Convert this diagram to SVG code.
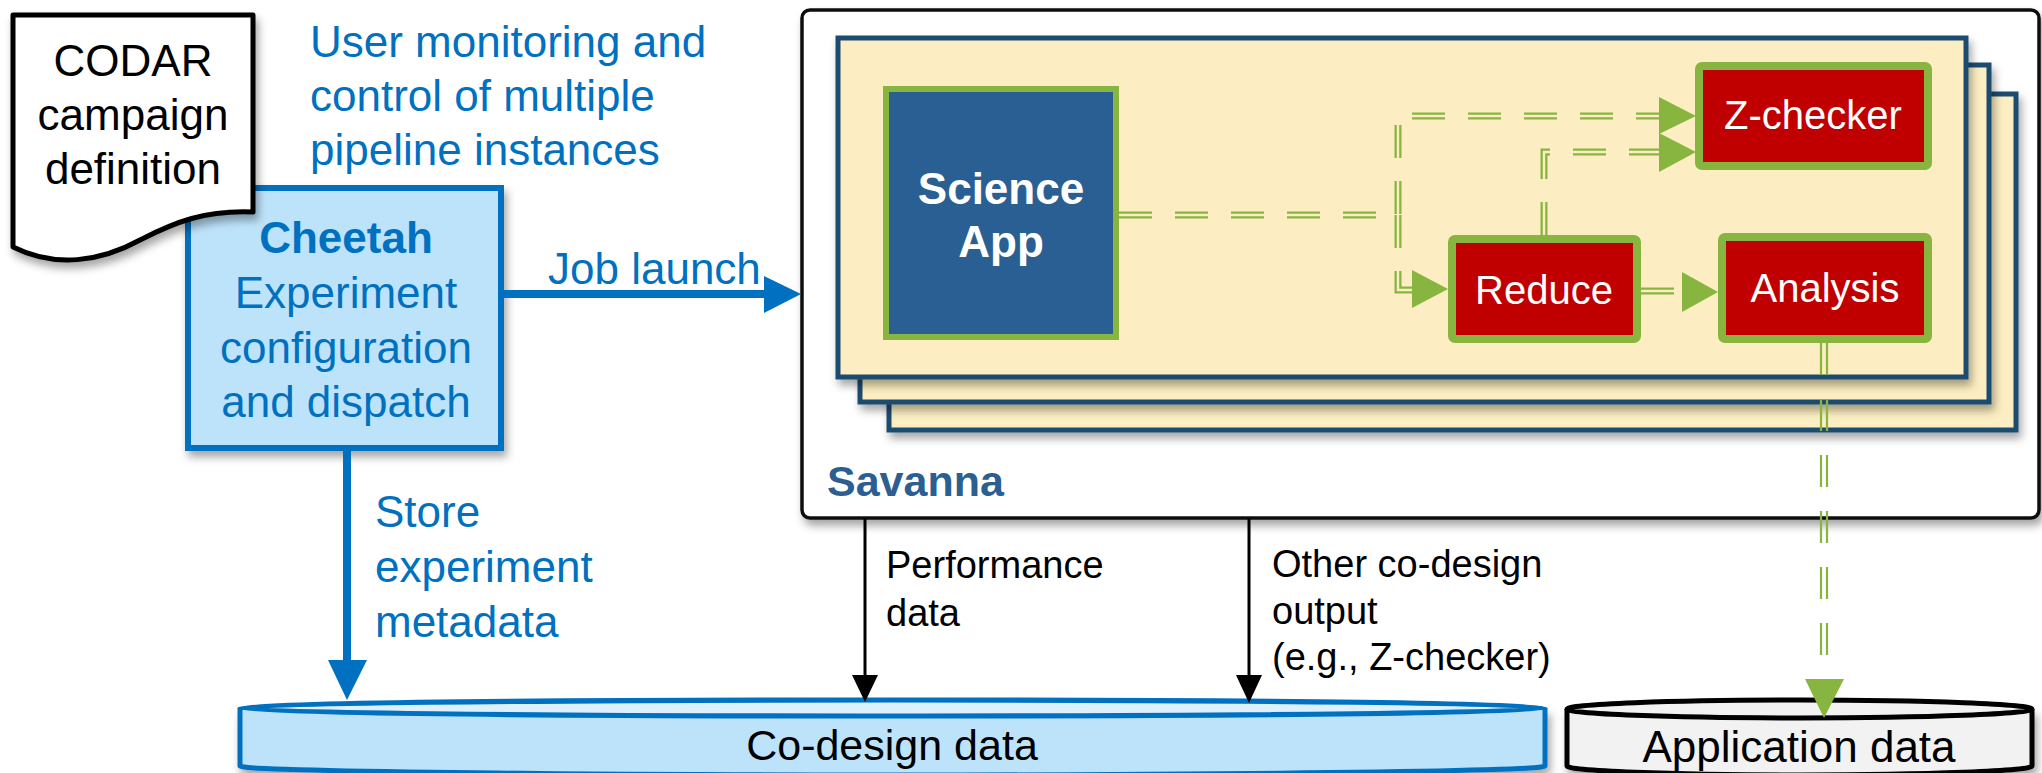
<svg xmlns="http://www.w3.org/2000/svg" width="2042" height="773" viewBox="0 0 2042 773">
<defs>
<filter id="sh" x="-10%" y="-10%" width="130%" height="140%">
<feDropShadow dx="3" dy="6" stdDeviation="4" flood-color="#000" flood-opacity="0.35"/>
</filter>
</defs>
<style>
text{font-family:"Liberation Sans",Arial,sans-serif}
.blue{fill:#0070C0;font-size:44px}
.blk{fill:#000;font-size:38px}
.panel{fill:#FCEEC2;stroke:#1F4B70;stroke-width:5}
.red{fill:#C00000;stroke:#87B540;stroke-width:8}
.wt{fill:#fff;font-size:40px;text-anchor:middle}
.g1{fill:none;stroke:#87B540;stroke-width:7;stroke-dasharray:33 23}
.g2{fill:none;stroke:#FCEEC2;stroke-width:2.4;stroke-dasharray:33 23}
.gl{fill:none;stroke:#87B540;stroke-width:2.2;stroke-dasharray:32 24}
.gh{fill:#87B540}
</style>
<rect width="2042" height="773" fill="#fff"/>

<g id="savanna">
<rect x="802" y="10" width="1237" height="508" rx="8" fill="#fff" stroke="#111" stroke-width="3.5" filter="url(#sh)"/>
<rect class="panel" x="889" y="94" width="1127" height="336" filter="url(#sh)"/>
<rect class="panel" x="860" y="65" width="1129" height="337" filter="url(#sh)"/>
<rect class="panel" x="838" y="38" width="1128" height="339" filter="url(#sh)"/>
<text x="827" y="496" font-size="43" font-weight="bold" fill="#2B5F91">Savanna</text>
</g>

<g id="science-app">
<rect x="886" y="89" width="230" height="248" fill="#2A5F93" stroke="#87B540" stroke-width="6"/>
<text x="1001" y="204" font-size="44" font-weight="bold" fill="#fff" text-anchor="middle">Science</text>
<text x="1001" y="257" font-size="44" font-weight="bold" fill="#fff" text-anchor="middle">App</text>
</g>

<g id="z-checker">
<rect class="red" x="1699" y="66" width="229" height="100" rx="3"/>
<text class="wt" x="1813" y="129">Z-checker</text>
</g>

<g id="reduce">
<rect class="red" x="1452" y="239" width="185" height="100" rx="3"/>
<text class="wt" x="1544" y="304" font-size="39">Reduce</text>
</g>

<g id="analysis">
<rect class="red" x="1722" y="237" width="206" height="102" rx="3"/>
<text class="wt" x="1825" y="302" font-size="39">Analysis</text>
</g>

<g id="cheetah">
<rect x="188" y="188" width="313" height="260" fill="#BDE3FB" stroke="#0070C0" stroke-width="6" filter="url(#sh)"/>
<text x="346" y="253" font-size="44" font-weight="bold" fill="#0070C0" text-anchor="middle">Cheetah</text>
<text x="346" y="308" class="blue" text-anchor="middle">Experiment</text>
<text x="346" y="363" class="blue" text-anchor="middle">configuration</text>
<text x="346" y="417" class="blue" text-anchor="middle">and dispatch</text>
</g>

<g id="codar-doc">
<path d="M13,15 H253 V212 C205,210 175,222 140,240 C100,262 55,268 13,247 Z" fill="#fff" stroke="#000" stroke-width="5" stroke-linejoin="round" filter="url(#sh)"/>
<text x="133" y="76" font-size="44" text-anchor="middle">CODAR</text>
<text x="133" y="130" font-size="44" text-anchor="middle">campaign</text>
<text x="133" y="184" font-size="44" text-anchor="middle">definition</text>
</g>

<g id="monitor-label">
<text class="blue" x="310" y="57">User monitoring  and</text>
<text class="blue" x="310" y="111">control of multiple</text>
<text class="blue" x="310" y="165">pipeline instances</text>
</g>

<g id="codesign-data">
<path d="M240,708 V766 A652.5,9 0 0 0 1545,766 V708" fill="#BDE3FB" stroke="#0070C0" stroke-width="5" filter="url(#sh)"/>
<ellipse cx="892.5" cy="708" rx="652.5" ry="8" fill="#DDF0FD" stroke="#0070C0" stroke-width="5"/>
<text x="892" y="760" font-size="43" text-anchor="middle">Co-design data</text>
</g>

<g id="application-data">
<path d="M1567,709 V766 A232.5,9 0 0 0 2032,766 V709" fill="#F2F2F2" stroke="#000" stroke-width="5" filter="url(#sh)"/>
<ellipse cx="1799.5" cy="709" rx="232.5" ry="9" fill="#F2F2F2" stroke="#000" stroke-width="5"/>
<text x="1799" y="762" font-size="44" text-anchor="middle">Application data</text>
</g>

<g id="connectors">
<!-- Job launch -->
<line x1="504" y1="294" x2="766" y2="294" stroke="#0070C0" stroke-width="8"/>
<polygon points="764,276 801,294 764,313" fill="#0070C0"/>
<text class="blue" x="548" y="284">Job launch</text>
<!-- Store -->
<line x1="347" y1="451" x2="347" y2="662" stroke="#0070C0" stroke-width="8"/>
<polygon points="328,660 367,660 347,700" fill="#0070C0"/>
<text class="blue" x="375" y="527">Store</text>
<text class="blue" x="375" y="582">experiment</text>
<text class="blue" x="375" y="637">metadata</text>
<!-- Performance -->
<line x1="865" y1="519" x2="865" y2="678" stroke="#000" stroke-width="3"/>
<polygon points="852,675 878,675 865,702" fill="#000"/>
<text class="blk" x="886" y="578">Performance</text>
<text class="blk" x="886" y="626">data</text>
<!-- Other -->
<line x1="1249" y1="519" x2="1249" y2="678" stroke="#000" stroke-width="3"/>
<polygon points="1236,675 1262,675 1249,703" fill="#000"/>
<text class="blk" x="1272" y="577">Other co-design</text>
<text class="blk" x="1272" y="624">output</text>
<text class="blk" x="1272" y="670">(e.g., Z-checker)</text>
<!-- green double dashed -->
<path class="g1" d="M1119,215 H1398 V116 H1662"/>
<path class="g2" d="M1119,215 H1398 V116 H1662"/>
<path class="g1" d="M1398,215 V290 H1414"/>
<path class="g2" d="M1398,215 V290 H1414"/>
<path class="g1" d="M1544,235 V152 H1662"/>
<path class="g2" d="M1544,235 V152 H1662"/>
<path class="g1" d="M1641,291 H1684" stroke-dasharray="none"/>
<path class="g2" d="M1641,291 H1684" stroke-dasharray="none"/>
<polygon class="gh" points="1659,97 1696,116 1659,134"/>
<polygon class="gh" points="1659,133 1696,152 1659,172"/>
<polygon class="gh" points="1412,270 1448,289 1412,308"/>
<polygon class="gh" points="1682,272 1718,292 1682,312"/>
<line class="gl" x1="1821" y1="343" x2="1821" y2="682"/>
<line class="gl" x1="1827" y1="343" x2="1827" y2="682"/>
<polygon class="gh" points="1805,679 1844,679 1824,718"/>
</g>
</svg>
